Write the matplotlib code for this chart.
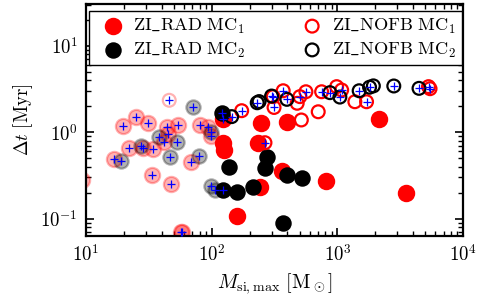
import numpy as np
import matplotlib
matplotlib.use("Agg")
import matplotlib.pyplot as plt
from matplotlib.ticker import FuncFormatter, LogLocator, NullFormatter

plt.rcParams['mathtext.fontset'] = 'cm'
plt.rcParams['font.size'] = 13.5

# ZI_RAD MC1 (filled red)
rad1_m = [123, 246, 398, 123, 125, 234, 359, 809, 3540, 2130, 241, 160,
          16.7, 19.8, 24.8, 30.9, 43.8, 54.2, 80.2, 93.3, 22.1, 28.2, 33.9,
          45.1, 41.9, 68.4, 33.6, 47.6, 56.5, 58.5, 98.6, 9.3]
rad1_dt = [1.43, 1.27, 1.31, 0.75, 0.62, 0.75, 0.356, 0.276, 0.20, 1.41, 0.234, 0.107,
           0.487, 1.18, 1.52, 1.28, 1.16, 1.22, 1.215, 1.16, 0.653, 0.653, 0.64,
           0.948, 0.766, 0.453, 0.32, 0.252, 0.070, 0.070, 0.906, 0.28]
rad1_faded = [0]*12 + [1]*20
rad1_cross = [1] + [0]*11 + [1]*19 + [0]

# ZI_RAD MC2 (filled black)
rad2_m = [120, 273, 265, 138, 400, 521, 123, 160, 214, 368,
          18.9, 70.5, 27.2, 38.3, 52.6, 46.8, 79.1, 98, 98.6, 107]
rad2_dt = [1.66, 0.517, 0.383, 0.399, 0.324, 0.293, 0.214, 0.202, 0.234, 0.088,
           0.469, 1.98, 0.70, 0.889, 0.766, 0.513, 0.531, 1.0, 0.239, 0.217]
rad2_faded = [0]*10 + [1]*10
rad2_cross = [1, 0, 0, 0, 0, 0, 1, 0, 0, 0] + [1]*10

# ZI_NOFB MC1 (open red)
nofb1_m = [173, 265, 516, 308, 313, 370, 478, 502, 561, 703, 748, 985,
           1080, 1375, 1703, 5300, 5450, 45.9]
nofb1_dt = [1.78, 0.758, 1.39, 2.59, 1.94, 3.03, 2.17, 2.59, 2.95, 1.73, 2.95, 3.38,
            3.09, 2.26, 2.26, 3.38, 3.20, 2.35]
nofb1_faded = [0]*17 + [1]
nofb1_cross = [1, 1, 0, 1, 1, 1, 0, 1, 1, 0, 1, 0, 1, 0, 1, 1, 1, 1]

# ZI_NOFB MC2 (open black)
nofb2_m = [144, 230, 238, 299, 396, 871, 1045, 1488, 1800, 1930, 2806, 4454]
nofb2_dt = [1.52, 2.20, 2.27, 2.63, 2.41, 2.88, 2.56, 3.03, 3.33, 3.45, 3.44, 3.23]
nofb2_faded = [0]*12
nofb2_cross = [1, 1, 0, 1, 1, 1, 1, 1, 1, 0, 1, 1]

labels = [r'$\mathrm{ZI\_RAD\ MC_1}$', r'$\mathrm{ZI\_RAD\ MC_2}$',
          r'$\mathrm{ZI\_NOFB\ MC_1}$', r'$\mathrm{ZI\_NOFB\ MC_2}$']

fig, ax = plt.subplots(figsize=(4.78, 2.95), dpi=100)
fig.subplots_adjust(left=0.18, right=0.969, bottom=0.2, top=0.988)

series = [
    (rad1_m, rad1_dt, rad1_faded, rad1_cross, 'red', True, 120),
    (rad2_m, rad2_dt, rad2_faded, rad2_cross, 'black', True, 105),
    (nofb1_m, nofb1_dt, nofb1_faded, nofb1_cross, 'red', False, 85),
    (nofb2_m, nofb2_dt, nofb2_faded, nofb2_cross, 'black', False, 85),
]

handles = []
for i, (m, dt, faded, cross, col, filled, size) in enumerate(series):
    m = np.array(m)
    dt = np.array(dt)
    faded = np.array(faded, dtype=bool)
    fc = col if filled else 'none'
    # faded points first
    ax.scatter(m[faded], dt[faded], s=size, facecolors=fc, edgecolors=col,
               linewidths=1.6, alpha=0.3, zorder=2)
    h = ax.scatter(m[~faded], dt[~faded], s=size, facecolors=fc, edgecolors=col,
                   linewidths=1.6, zorder=3 + i, label=labels[i])
    handles.append(h)

for m, dt, faded, cross, col, filled, size in series:
    m = np.array(m)
    dt = np.array(dt)
    cross = np.array(cross, dtype=bool)
    ax.scatter(m[cross], dt[cross], s=30, marker='+', color='blue',
               linewidths=0.9, zorder=10)

ax.set_xscale('log')
ax.set_yscale('log')
ax.set_xlim(10, 1e4)
ax.set_ylim(0.063, 31)

fmt = FuncFormatter(lambda v, p: r'$10^{%d}$' % round(np.log10(v)))
ax.xaxis.set_major_formatter(fmt)
ax.yaxis.set_major_formatter(fmt)
ax.xaxis.set_minor_formatter(NullFormatter())
ax.yaxis.set_minor_formatter(NullFormatter())
ax.yaxis.set_minor_locator(LogLocator(base=10, subs=np.arange(2, 10)))

ax.tick_params(which='both', direction='in', top=True, right=True)
ax.tick_params(which='major', length=6, width=1.2, pad=6)
ax.tick_params(which='minor', length=3.5, width=1)
for sp in ax.spines.values():
    sp.set_linewidth(1.6)

ax.set_xlabel(r'$M_{\rm si,max}\ [\mathrm{M_\odot}]$', fontsize=14.5)
ax.set_ylabel(r'$\Delta t\ [\mathrm{Myr}]$')

leg = ax.legend(handles=handles, labels=labels,
                ncol=2, loc='upper left', mode='expand',
                bbox_to_anchor=(0.008, 0.707, 0.989, 0.259), borderaxespad=0,
                scatterpoints=1, fancybox=False, framealpha=1, edgecolor='black',
                borderpad=0.3, handlelength=2.0, handletextpad=0.1,
                labelspacing=0.25, fontsize=13.2)
leg.get_frame().set_linewidth(1.0)
leg.set_zorder(20)

fig.savefig('out.png', dpi=100)
